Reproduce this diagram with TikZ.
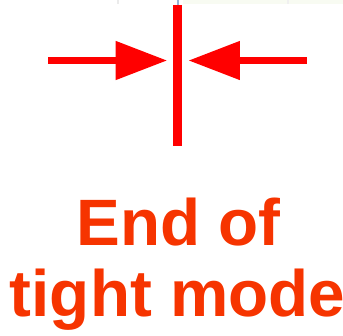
\documentclass[tikz,border=0pt]{standalone}
\usepackage{fontspec}
\setmainfont{Liberation Sans}
\usetikzlibrary{arrows.meta}
\definecolor{markred}{RGB}{255,0,0}
\definecolor{labelred}{RGB}{246,52,0}
\definecolor{faintband}{RGB}{248,251,242}
\definecolor{faintblue}{RGB}{150,180,215}
\tikzset{
  bar/.style={draw=markred, line width=8.3pt},
  pusharrow/.style={draw=markred, line width=7.7pt,
    -{Triangle[width=37pt,length=51.6pt,fill=markred]}},
  label/.style={text=labelred, font=\fontsize{65.6pt}{71.7pt}\selectfont\bfseries,
    inner sep=0pt, anchor=base}
}
\begin{document}
\begin{tikzpicture}[x=1pt,y=-1pt]
\useasboundingbox (0,0) rectangle (343,335);
% faint remnants at top edge
\fill[faintband] (183,0) rectangle (343,4);
\fill[black!8] (117,0) rectangle (119,4);
\fill[black!6] (287,0) rectangle (289,4);
\fill[faintblue] (176.5,0) rectangle (179,5);
% marker
\coordinate (top) at (177.5,5);
\coordinate (bottom) at (177.5,146);
\draw[bar] (top) -- (bottom);
\coordinate (lstart) at (48.3,60.5);
\coordinate (ltip) at (167.3,60.5);
\coordinate (rstart) at (306.7,60.5);
\coordinate (rtip) at (188.3,60.5);
\draw[pusharrow] (lstart) -- (ltip);
\draw[pusharrow] (rstart) -- (rtip);
\node[label] (line1) at (178.5,245) {End of};
\node[label] (line2) at (177.5,316.7) {tight mode};
\end{tikzpicture}
\end{document}
